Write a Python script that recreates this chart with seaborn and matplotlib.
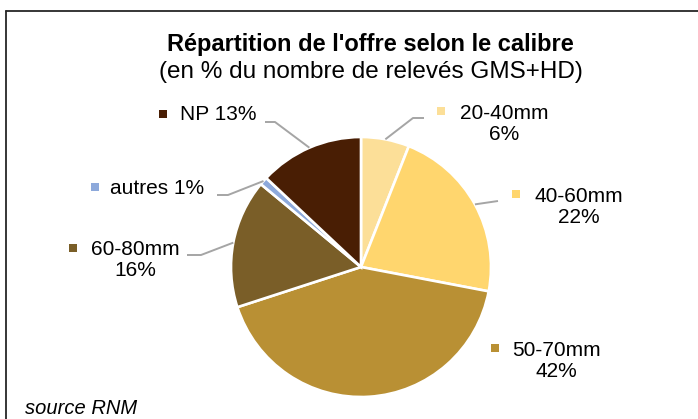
import matplotlib
matplotlib.use("Agg")
import matplotlib.pyplot as plt
import seaborn as sns
from matplotlib.lines import Line2D
import numpy as np

# data
categories = ["20-40mm", "40-60mm", "50-70mm", "60-80mm", "autres", "NP"]
shares = [6, 22, 42, 16, 1, 13]
colors = ["#FCDF98", "#FFD66E", "#B99034", "#7A5E28", "#8DA9DB", "#491E04"]
label_texts = ["20-40mm\n6%", "40-60mm\n22%", "50-70mm\n42%", "60-80mm\n16%", "autres 1%", "NP 13%"]

W, H = 698, 419

sns.set_theme(style="white")
plt.rcParams["font.family"] = ["Liberation Sans", "DejaVu Sans"]

fig = plt.figure(figsize=(W / 100, H / 100), dpi=100)
ax = fig.add_axes([0, 0, 1, 1])

cx, cy, r = 361, H - 267, 130
wedges, _ = ax.pie(shares, colors=colors, startangle=90, counterclock=False,
                   center=(cx, cy), radius=r, frame=True,
                   wedgeprops=dict(edgecolor="white", linewidth=1.9))
ax.set_xlim(0, W)
ax.set_ylim(0, H)
ax.axis("off")

# label layout in pixel coords (x, y from top)
marker_pos = [(441, 111), (516, 194), (495, 348), (73, 248), (95, 187), (163, 114)]
text_pos = [(504, 124, "center"), (579, 207, "center"), (556, 361, "center"),
            (135, 260, "center"), (110, 188, "left"), (180, 114, "left")]
elbows = [[(413, 118), (424, 118)], [(498, 201)], None,
          [(201, 255), (187, 255)], [(228, 195), (217, 195)], [(275, 122), (265, 122)]]

for w, lab, mp, tp, el, col in zip(wedges, label_texts, marker_pos, text_pos, elbows, colors):
    ax.scatter([mp[0]], [H - mp[1]], marker="s", s=30, color=col, linewidths=0)
    ax.text(tp[0], H - tp[1], lab, ha=tp[2], va="center", fontsize=15,
            color="black", linespacing=1.15, multialignment="center")
    if el:
        ang = np.deg2rad((w.theta1 + w.theta2) / 2)
        xs = [cx + r * np.cos(ang)] + [p[0] for p in el]
        ys = [cy + r * np.sin(ang)] + [H - p[1] for p in el]
        ax.plot(xs, ys, color="#A5A5A5", lw=1.4, solid_capstyle="butt")

ax.text(370, H - 44, "Répartition de l'offre selon le calibre", ha="center", va="center",
        fontsize=17, fontweight="bold", color="black")
ax.text(371, H - 72, "(en % du nombre de relevés GMS+HD)", ha="center", va="center",
        fontsize=17.5, color="black")
ax.text(25, H - 409, "source RNM", ha="left", va="center", fontsize=14.5,
        style="italic", color="black")

# chart frame
fig.add_artist(Line2D([6 / W, 6 / W], [0, 1 - 11 / H], color="#262626", lw=1.3))
fig.add_artist(Line2D([6 / W, 1], [1 - 11 / H, 1 - 11 / H], color="#262626", lw=1.3))

fig.savefig("out.png", dpi=100, facecolor="white")
